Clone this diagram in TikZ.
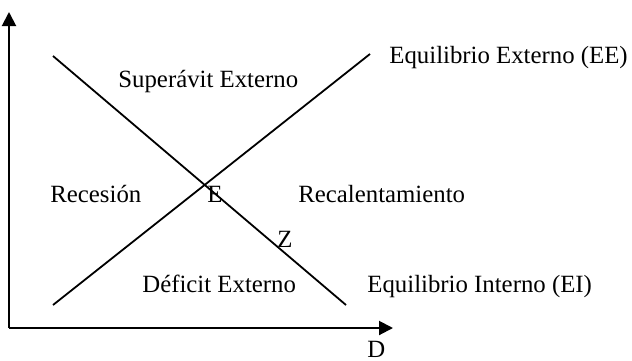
\documentclass[tikz,border=0pt]{standalone}
\usepackage{fontspec}
\setmainfont{Liberation Serif}
\usetikzlibrary{arrows.meta}
\begin{document}
\begin{tikzpicture}[x=0.5pt,y=-0.5pt,
  lbl/.style={anchor=base west,inner sep=0pt,font=\fontsize{12.4}{14}\selectfont},
  axis/.style={line width=1pt,-{Triangle[length=7pt,width=7pt]}},
  curve/.style={line width=0.9pt}]
\useasboundingbox (0,0) rectangle (632,360);
\coordinate (O) at (9,328);
\coordinate (Ytip) at (9,12);
\coordinate (Xtip) at (393,328);
\draw[axis] (O) -- (Ytip);
\draw[axis] (O) -- (Xtip);
\coordinate (EIa) at (53,56);
\coordinate (EIb) at (346,305);
\coordinate (EEa) at (53,305);
\coordinate (EEb) at (370,54);
\draw[curve] (EIa) -- (EIb);
\draw[curve] (EEa) -- (EEb);
\node[lbl] (sup) at (118,87) {Superávit Externo};
\node[lbl] (ee) at (389,63) {Equilibrio Externo (EE)};
\node[lbl] (rec) at (50,202) {Recesión};
\node[lbl] (e) at (207,202) {E};
\node[lbl] (recal) at (298,202) {Recalentamiento};
\node[lbl] (z) at (277,247) {Z};
\node[lbl] (def) at (142,292) {Déficit Externo};
\node[lbl] (ei) at (367,292) {Equilibrio Interno (EI)};
\node[lbl] (d) at (367,357) {D};
\end{tikzpicture}
\end{document}
